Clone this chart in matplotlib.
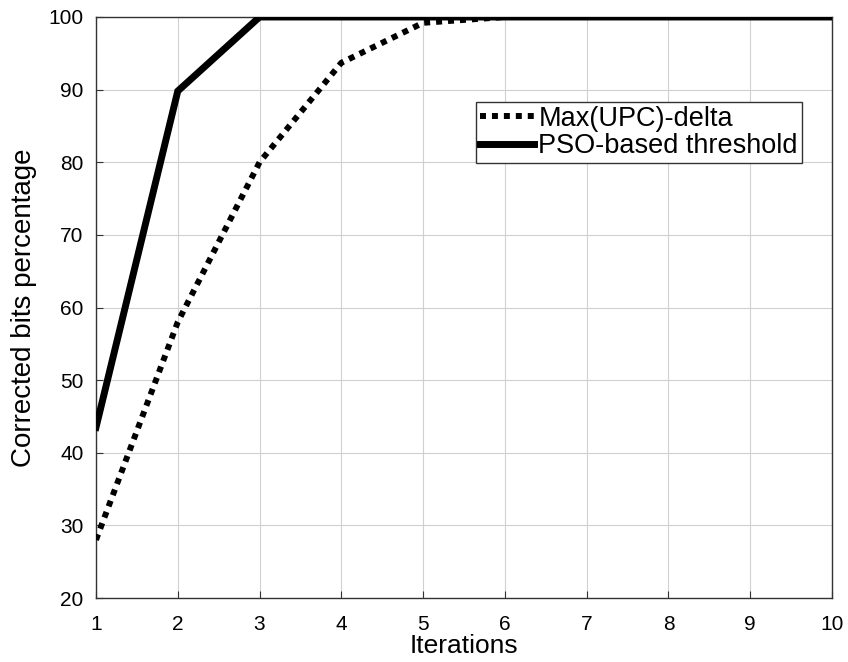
import numpy as np
import matplotlib.pyplot as plt

# 数据
iterations = [1, 2, 3, 4, 5, 6, 7, 8, 9, 10]
upc_delta = [28, 58, 80, 93.7, 99.2, 100, 100, 100, 100, 100]
pso_thr = [43.5, 89.8, 100, 100, 100, 100, 100, 100, 100, 100]
labels = ['Max(UPC)-delta', 'PSO-based threshold']

plt.rcParams['font.family'] = ['Liberation Sans', 'DejaVu Sans']

fig = plt.figure(figsize=(8.48, 6.62), dpi=100)
ax = fig.add_axes([96/848, 1-598/662, 736/848, 581/662])

ax.plot(iterations, upc_delta, color='black', lw=4.3, ls=(0, (1, 1)),
        dash_capstyle='butt', label=labels[0], zorder=3)
ax.plot(iterations, pso_thr, color='black', lw=5, solid_joinstyle='miter',
        label=labels[1], zorder=4)

ax.set_xlim(1, 10)
ax.set_ylim(20, 100)
ax.set_xticks(range(1, 11))
ax.set_yticks(range(20, 101, 10))
ax.grid(True, color='#d0d0d0', lw=0.8)
ax.tick_params(direction='in', labelsize=15, length=5, color='#333333')
ax.tick_params(axis='x', pad=12)
ax.tick_params(axis='y', pad=9)
for s in ax.spines.values():
    s.set_color('#333333')
    s.set_linewidth(1)

ax.set_xlabel('Iterations', size=19, labelpad=0)
ax.set_ylabel('Corrected bits percentage', size=20, labelpad=8)

leg = ax.legend(loc='upper right', bbox_to_anchor=(0.959, 0.854), fontsize=19.5,
                fancybox=False, framealpha=1, edgecolor='#333333',
                handlelength=2.0, handletextpad=0.15, borderpad=0.15,
                labelspacing=0.05, borderaxespad=0)
leg.get_frame().set_linewidth(1)

fig.savefig('out.png', dpi=100)
